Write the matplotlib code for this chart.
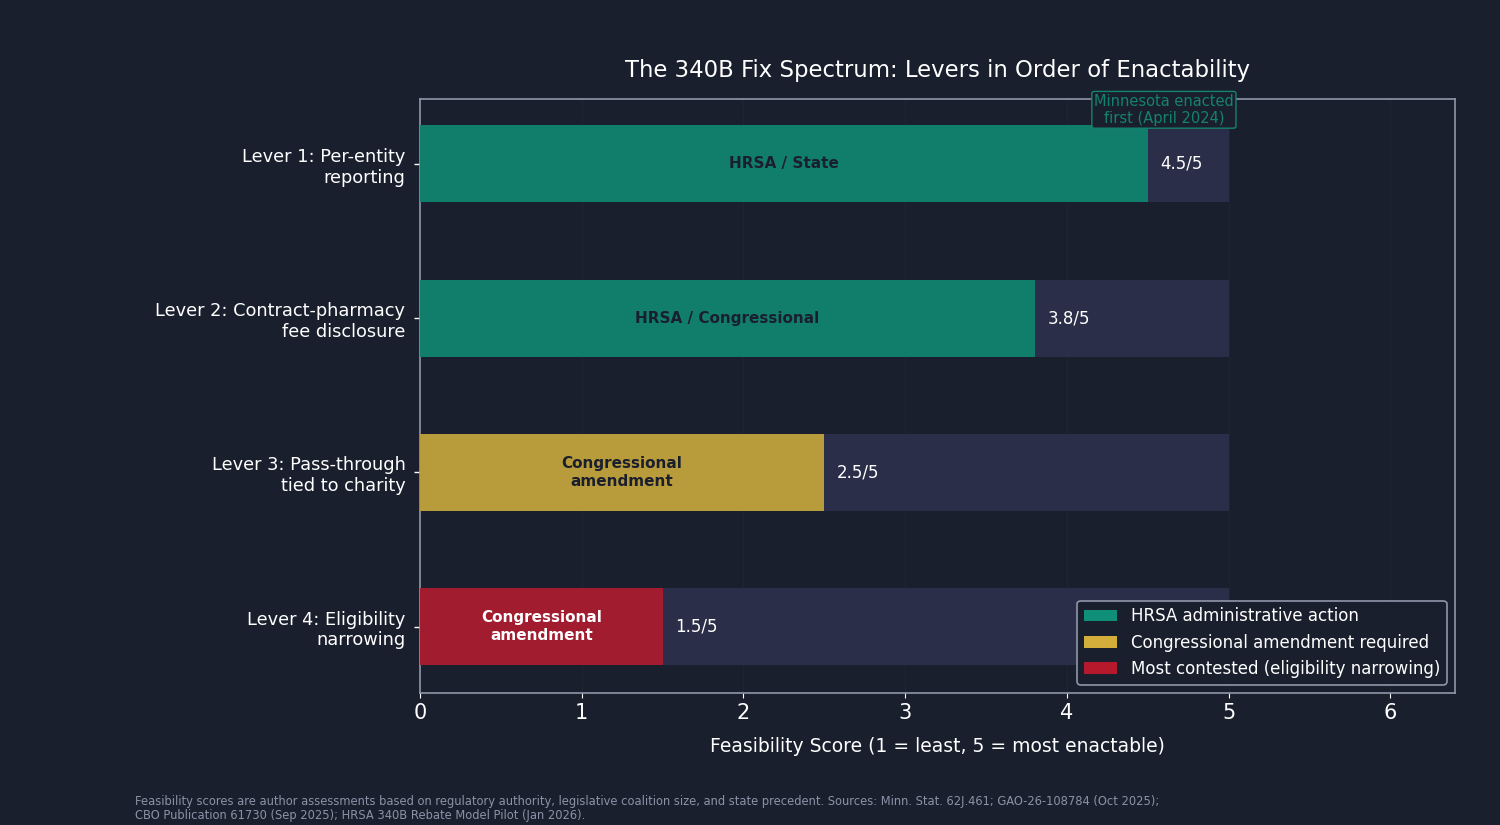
import matplotlib.pyplot as plt
from matplotlib.patches import Patch
import numpy as np

# data
levers = ["Lever 1: Per-entity\nreporting",
          "Lever 2: Contract-pharmacy\nfee disclosure",
          "Lever 3: Pass-through\ntied to charity",
          "Lever 4: Eligibility\nnarrowing"]
scores = [4.5, 3.8, 2.5, 1.5]
max_score = 5
bar_labels = ["HRSA / State", "HRSA / Congressional",
              "Congressional\namendment", "Congressional\namendment"]
bar_colors = ["#117e6b", "#117e6b", "#b89b3a", "#a01c2e"]
bar_text_colors = ["#1a1f2e", "#1a1f2e", "#1a1f2e", "white"]
legend_labels = ["HRSA administrative action",
                 "Congressional amendment required",
                 "Most contested (eligibility narrowing)"]
legend_colors = ["#0f8f77", "#d4ae3a", "#b5192b"]

bg = "#1a1f2d"
fig, ax = plt.subplots(figsize=(15, 8.25), dpi=100)
fig.patch.set_facecolor(bg)
ax.set_facecolor(bg)
fig.subplots_adjust(left=0.28, right=0.97, top=0.88, bottom=0.16)

y = np.arange(len(levers))
ax.barh(y, [max_score] * len(levers), height=0.5, color="#2a2e48", zorder=2)
ax.barh(y, scores, height=0.5, color=bar_colors, zorder=3)

for i, s in enumerate(scores):
    ax.text(s / 2, i, bar_labels[i], ha="center", va="center", fontsize=11,
            fontweight="bold", color=bar_text_colors[i], zorder=4)
    ax.text(s + 0.08, i, f"{s}/5", ha="left", va="center", fontsize=12,
            color="white", zorder=4)

ax.text(4.6, -0.35, "Minnesota enacted\nfirst (April 2024)", ha="center", va="center",
        fontsize=10.5, color="#14826e", zorder=5,
        bbox=dict(boxstyle="round,pad=0.15", facecolor=bg, edgecolor="#14826e", lw=1))

ax.set_xlim(0, 6.4)
ax.set_ylim(3.43, -0.42)
ax.set_yticks(y)
ax.set_yticklabels(levers, fontsize=12.8, color="white")
ax.tick_params(axis="x", labelsize=15, colors="white")
ax.tick_params(axis="y", colors="white", pad=6, length=4.5, width=1)
ax.set_xlabel("Feasibility Score (1 = least, 5 = most enactable)", fontsize=13.5,
              color="white", labelpad=10)
ax.set_title("The 340B Fix Spectrum: Levers in Order of Enactability", fontsize=16.4,
             color="white", pad=16)
ax.grid(axis="x", color="#1f2433", lw=0.8, zorder=1)
ax.set_axisbelow(True)
for sp in ax.spines.values():
    sp.set_color("#8e97a8")
    sp.set_linewidth(1.2)

handles = [Patch(facecolor=c, label=l) for c, l in zip(legend_colors, legend_labels)]
leg = ax.legend(handles=handles, loc="lower right", fontsize=12, facecolor=bg,
                edgecolor="#8e97a8", labelcolor="white", framealpha=1)
leg.get_frame().set_linewidth(1.2)

fig.text(0.09, 0.004,
         "Feasibility scores are author assessments based on regulatory authority, legislative coalition size, and state precedent. Sources: Minn. Stat. 62J.461; GAO-26-108784 (Oct 2025);\n"
         "CBO Publication 61730 (Sep 2025); HRSA 340B Rebate Model Pilot (Jan 2026).",
         fontsize=8.3, color="#8a93a6", ha="left", va="bottom", linespacing=1.1)

plt.savefig("out.png", facecolor=bg)
